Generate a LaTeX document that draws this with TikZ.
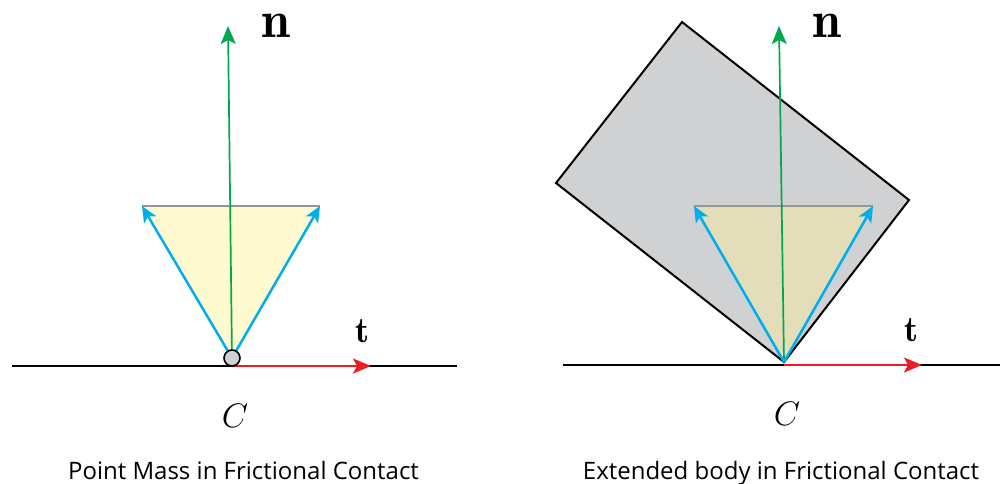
\documentclass[tikz,border=0pt]{standalone}
\usepackage{fix-cm}
\usepackage{fontspec}
\setsansfont{Open Sans}
\usetikzlibrary{arrows.meta}
\definecolor{cgreen}{RGB}{0,166,81}
\definecolor{cred}{RGB}{237,28,36}
\definecolor{cblue}{RGB}{0,174,239}
\definecolor{cyelA}{RGB}{255,250,208}
\definecolor{cyelB}{RGB}{227,222,185}
\definecolor{cbody}{RGB}{208,209,211}
\definecolor{cedge}{RGB}{150,150,150}
\tikzset{
  ground/.style={black,line width=2pt},
  tvec/.style={cred,line width=2pt,-{Stealth[length=18pt,width=15pt,inset=4pt]}},
  nvec/.style={cgreen,line width=1.7pt,-{Stealth[length=18pt,width=15pt,inset=4pt]}},
  fvec/.style={cblue,line width=2.5pt,-{Stealth[length=16pt,width=14pt,inset=4pt]}},
  topedge/.style={cedge,line width=2pt},
  caption/.style={font=\sffamily\fontsize{24}{28}\selectfont,anchor=base,inner sep=0pt},
  nlab/.style={font=\fontsize{52}{56}\selectfont,anchor=base,inner sep=0pt},
  tlab/.style={font=\fontsize{36}{40}\selectfont,anchor=base,inner sep=0pt},
  clab/.style={font=\fontsize{34}{38}\selectfont,anchor=base,inner sep=0pt},
}
\begin{document}
\begin{tikzpicture}[x=1pt,y=-1pt]
\useasboundingbox (0,0) rectangle (1001,483);
% ---------- left ----------
\coordinate (Lg1) at (12,366);
\coordinate (Lg2) at (457,366);
\coordinate (LC) at (232,366);
\coordinate (LO) at (232,358);
\coordinate (LA) at (142,206);
\coordinate (LB) at (320,206);
\coordinate (Lt) at (371,366);
\coordinate (Ln) at (228,26);
\draw[ground] (Lg1) -- (Lg2);
\fill[cyelA] (LA) -- (LB) -- (LO) -- cycle;
\draw[topedge] (LA) -- (LB);
\draw[nvec] (LO) -- (Ln);
\draw[fvec] (LO) -- (LA);
\draw[fvec] (LO) -- (LB);
\draw[tvec] (LC) -- (Lt);
\node[circle,draw=black,fill=cbody,line width=1.6pt,minimum size=16pt,inner sep=0pt] (Lpt) at (LO) {};
\node[nlab] (Lnl) at (276,37) {$\mathbf{n}$};
\node[tlab] (Ltl) at (363,342) {$\mathbf{t}$};
\node[clab] (LCl) at (235,427) {$C$};
\node[caption] (Lcap) at (243.5,479) {Point Mass in Frictional Contact};
% ---------- right ----------
\coordinate (Rg1) at (563,365);
\coordinate (Rg2) at (1000,365);
\coordinate (RO) at (784,362);
\coordinate (RC) at (784,365);
\coordinate (RA) at (694,206);
\coordinate (RB) at (873,206);
\coordinate (Rt) at (922,365);
\coordinate (Rn) at (779,26);
\draw[ground] (Rg1) -- (Rg2);
\filldraw[fill=cbody,draw=black,line width=2pt,line join=miter] (682,22) -- (909,200) -- (RO) -- (556,183) -- cycle;
\fill[cyelB] (RA) -- (RB) -- (RO) -- cycle;
\draw[topedge] (RA) -- (RB);
\draw[nvec] (RO) -- (Rn);
\draw[fvec] (RO) -- (RA);
\draw[fvec] (RO) -- (RB);
\draw[tvec] (RC) -- (Rt);
\node[nlab] (Rnl) at (827,37) {$\mathbf{n}$};
\node[tlab] (Rtl) at (912,341) {$\mathbf{t}$};
\node[clab] (RCl) at (787,425) {$C$};
\node[caption] (Rcap) at (781,479) {Extended body in Frictional Contact};
\end{tikzpicture}
\end{document}
